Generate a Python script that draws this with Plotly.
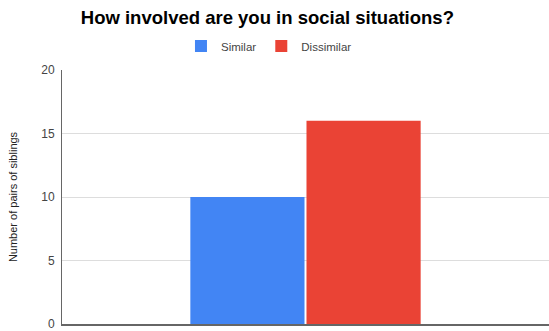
import plotly.graph_objects as go

# Survey responses: one question, two sibling-pair groups
categories = [""]
similar = [10]
dissimilar = [16]
y_ticks = [0, 5, 10, 15, 20]

fig = go.Figure()
fig.add_trace(go.Bar(name="Similar", x=categories, y=similar,
                     marker=dict(color="#4285F4", line=dict(width=0))))
fig.add_trace(go.Bar(name="Dissimilar", x=categories, y=dissimilar,
                     marker=dict(color="#EA4335", line=dict(width=0))))

fig.update_layout(
    width=549, height=331,
    paper_bgcolor="white", plot_bgcolor="white",
    margin=dict(l=62, r=0, t=70, b=5),
    font=dict(family="Arial, Liberation Sans, sans-serif", color="#444444"),
    title=dict(text="<b>How involved are you in social situations?</b>",
               x=0.487, xanchor="center", y=0.948, yanchor="middle",
               font=dict(size=18.5, color="#000000")),
    barmode="group", bargap=0.523, bargroupgap=0.017,
    showlegend=True,
    legend=dict(orientation="h", x=0.425, xanchor="center", y=1.094, yanchor="middle",
                font=dict(size=11.5, color="#444444"), itemwidth=30,
                traceorder="normal"),
)
fig.update_xaxes(range=[-0.5, 0.5], showticklabels=False, showgrid=False,
                 showline=True, linecolor="#666666", linewidth=1.5, ticks="")
fig.update_yaxes(range=[0, 20], tickvals=y_ticks, showgrid=True, gridcolor="#dddddd",
                 showline=True, linecolor="#666666", linewidth=1, zeroline=False,
                 ticklabeloverflow="allow", ticklabelstandoff=4,
                 tickfont=dict(size=12, color="#444444"),
                 title=dict(text="Number of pairs of siblings", standoff=21,
                            font=dict(size=11, color="#222222")))

fig.write_html("out.html")
